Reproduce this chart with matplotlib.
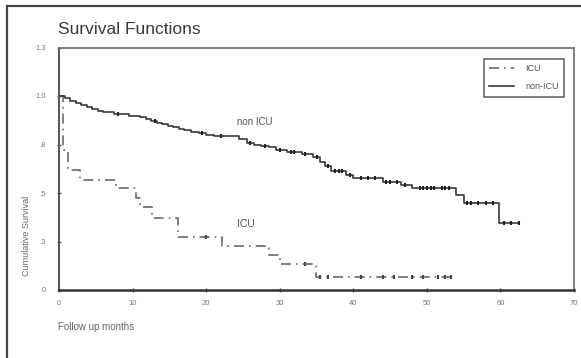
import matplotlib
matplotlib.use("Agg")
import matplotlib.pyplot as plt
from matplotlib.patches import Rectangle
import numpy as np

# Kaplan-Meier steps (months, cumulative survival)
nonicu_times = [0, 0.8, 1.5, 2.3, 3, 3.8, 4.5, 5.3, 6, 7.5, 9.5, 11, 11.8, 12.5, 13.3,
                14, 14.8, 15.5, 16.3, 17, 18, 19, 20, 21, 24.5, 25.5, 26.5, 27.5, 28.5,
                29.5, 31, 33, 34.5, 35.5, 36.2, 37, 39, 40, 44, 46.5, 48, 54, 55, 59.8,
                62.5]
nonicu_surv = [1.0, .988, .975, .965, .955, .945, .935, .925, .915, .905, .898, .89,
               .881, .872, .863, .855, .847, .84, .831, .823, .815, .808, .8, .792,
               .777, .76, .75, .742, .735, .72, .71, .70, .684, .66, .64, .615, .595,
               .576, .556, .54, .525, .49, .45, .345, .345]
nonicu_censored = [8, 13, 19.5, 22, 26, 28, 30, 31.5, 32, 33.5, 35, 36.5, 37.5, 38,
                   38.5, 39.5, 41, 42, 43, 44.5, 45, 46, 47, 49, 49.5, 50, 50.5, 51,
                   52, 52.5, 53, 55.5, 56, 57, 58, 59, 60.5, 61.5, 62.5]

icu_times = [0, 0.5, 1.2, 2.8, 7.8, 10.4, 11, 12.7, 16.2, 22.2, 28.5, 30.1, 34.9, 53.3]
icu_surv = [1.0, .72, .62, .566, .525, .473, .427, .37, .273, .225, .18, .134, .067, .067]
icu_censored = [20, 33.5, 35.5, 36.5, 41, 44, 45.5, 48, 49.5, 51.5, 52.5, 53.3]

series_labels = ["ICU", "non-ICU"]
xticks = [0, 10, 20, 30, 40, 50, 60, 70]
yticks = [0, .25, .5, .75, 1.0, 1.25]
ytick_labels = ["0", ".3", ".5", ".8", "1.0", "1.3"]

plt.rcParams['font.family'] = ['Liberation Sans', 'DejaVu Sans']

fig = plt.figure(figsize=(5.81, 3.58), dpi=100)
fig.patch.set_facecolor('white')

# outer frame of the picture
fig.patches.append(Rectangle((7 / 581, -0.2), 1.3, 1.2 - 6 / 358,
                             transform=fig.transFigure, fill=False,
                             edgecolor='#444444', linewidth=1.6))

ax = fig.add_axes([59 / 581, 1 - 290 / 358, 515 / 581, 242.5 / 358])


def step_value(times, surv, t):
    idx = np.searchsorted(times, t, side='right') - 1
    return surv[max(idx, 0)]


# ICU: dash-dot grey
icu_line, = ax.step(icu_times, icu_surv, where='post', color='#6a6a6a',
                    linewidth=1.2, linestyle=(0, (6, 3, 1, 3)))
ax.plot(icu_censored, [step_value(icu_times, icu_surv, t) for t in icu_censored],
        linestyle='none', marker='|', markersize=3, color='#444444', markeredgewidth=1.5)

# non-ICU: solid dark
nonicu_line, = ax.step(nonicu_times, nonicu_surv, where='post', color='#3a3a3a',
                       linewidth=1.2)
ax.plot(nonicu_censored, [step_value(nonicu_times, nonicu_surv, t) for t in nonicu_censored],
        linestyle='none', marker='|', markersize=3, color='#222222', markeredgewidth=1.5)

ax.set_xlim(0, 70)
ax.set_ylim(0, 1.25)
ax.set_xticks(xticks)
ax.set_xticklabels([str(v) for v in xticks])
ax.set_yticks(yticks)
ax.set_yticklabels(ytick_labels)
ax.tick_params(axis='both', direction='inout', length=3, width=1, colors='#555555',
               labelsize=5.5, labelcolor='#777777')
ax.tick_params(axis='y', pad=8)
ax.tick_params(axis='x', pad=6)
for side in ['top', 'right']:
    ax.spines[side].set_color('#777777')
    ax.spines[side].set_linewidth(1.3)
ax.spines['left'].set_color('#555555')
ax.spines['left'].set_linewidth(1.4)
ax.spines['bottom'].set_color('#333333')
ax.spines['bottom'].set_linewidth(1.8)

# curve labels
ax.text(24.2, 0.85, "non ICU", fontsize=7, color='#555555')
ax.text(24.2, 0.325, "ICU", fontsize=7.5, color='#555555')

leg = ax.legend([icu_line, nonicu_line], series_labels, loc='upper right',
                bbox_to_anchor=(0.99, 0.972), fontsize=6.5, frameon=True,
                fancybox=False, handlelength=2.8, borderpad=0.6, labelspacing=1.0,
                handletextpad=1.2)
leg.get_frame().set_edgecolor('#444444')
leg.get_frame().set_linewidth(1.2)
for t in leg.get_texts():
    t.set_color('#555555')

fig.text(58 / 581, 1 - 30 / 358, "Survival Functions", fontsize=12.5, color='#3a3a3a',
         va='center', ha='left')
fig.text(27 / 581, 1 - 236 / 358, "Cumulative Survival", fontsize=6.5, color='#666666',
         rotation=90, va='center', ha='center')
fig.text(58 / 581, 1 - 327 / 358, "Follow up months", fontsize=7, color='#666666',
         va='center', ha='left')

fig.savefig("out.png", dpi=100)
